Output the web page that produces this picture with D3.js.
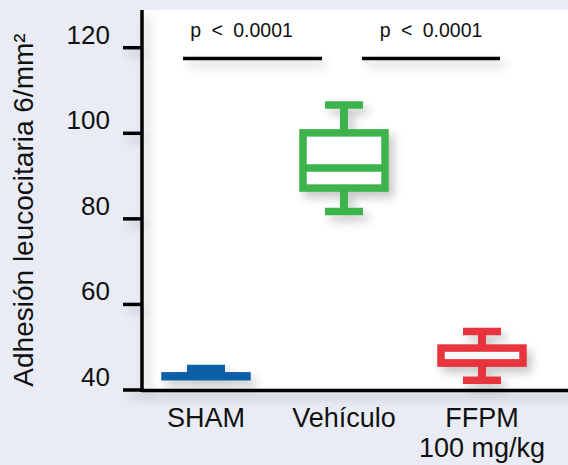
<!DOCTYPE html>
<html>
<head>
<meta charset="utf-8">
<script src="https://cdn.jsdelivr.net/npm/d3@7"></script>
<style>
  body { margin: 0; background: #e9ecf4; }
  svg { display: block; font-family: "Liberation Sans", Arial, sans-serif; }
</style>
</head>
<body>
<svg id="chart" width="568" height="465"></svg>
<script>
// group labels
const groups = ["SHAM", "Vehículo", "FFPM"];
const subLabels = ["", "", "100 mg/kg"];
// box plot stats
const mins    = [43.2, 81.7, 42.3];
const q1s     = [43.1, 87.2, 46.3];
const medians = [43.2, 91.9, 46.3];
const q3s     = [43.3, 100.1, 49.8];
const maxs    = [45.0, 106.6, 53.7];
// y ticks
const yTicks = [40, 60, 80, 100, 120];
// significance brackets
const pLabels = ["p < 0.0001", "p < 0.0001"];
const pPairs = [[0, 1], [1, 2]];
const pLevel = 117.5;

const colors = ["#0b5ea8", "#3cb44b", "#e8363c"];

const svg = d3.select("#chart");
const W = 568, H = 465;
const plotLeft = 142, plotTop = 10, plotBottom = 390.5;

const defs = svg.append("defs");
const shadow = defs.append("filter").attr("id", "shadow")
  .attr("filterUnits", "userSpaceOnUse")
  .attr("x", 0).attr("y", 0).attr("width", W).attr("height", H);
shadow.append("feDropShadow")
  .attr("dx", 5).attr("dy", 6).attr("stdDeviation", 5)
  .attr("flood-color", "#000").attr("flood-opacity", 0.22);

svg.append("rect").attr("width", W).attr("height", H).attr("fill", "#e9ecf4");
svg.append("rect")
  .attr("x", plotLeft).attr("y", plotTop)
  .attr("width", W - plotLeft).attr("height", plotBottom - plotTop)
  .attr("fill", "#ffffff");

const y = d3.scaleLinear().domain([40, 100]).range([390, 133.3]);
const x = d3.scaleBand().domain(groups).range([137, 551]);
const cx = (i) => x(groups[i]) + x.bandwidth() / 2;

// axes
const axes = svg.append("g").attr("filter", "url(#shadow)");
axes.append("line")
  .attr("x1", plotLeft).attr("x2", plotLeft).attr("y1", plotTop).attr("y2", plotBottom + 1.5)
  .attr("stroke", "#000").attr("stroke-width", 3.5);
axes.append("line")
  .attr("x1", plotLeft).attr("x2", W).attr("y1", plotBottom).attr("y2", plotBottom)
  .attr("stroke", "#000").attr("stroke-width", 3.5);
axes.selectAll(".tick")
  .data(yTicks)
  .join("line")
  .attr("class", "tick")
  .attr("x1", 123).attr("x2", plotLeft)
  .attr("y1", d => y(d)).attr("y2", d => y(d))
  .attr("stroke", "#000").attr("stroke-width", 3.5);

svg.selectAll(".tlabel")
  .data(yTicks)
  .join("text")
  .attr("class", "tlabel")
  .attr("x", 110).attr("y", d => y(d) - 4)
  .attr("text-anchor", "end")
  .attr("font-size", 26)
  .attr("fill", "#111")
  .text(d => d);

svg.append("text")
  .attr("transform", "translate(33,210) rotate(-90)")
  .attr("text-anchor", "middle")
  .attr("font-size", 28)
  .attr("fill", "#111")
  .text("Adhesión leucocitaria 6/mm²");

// x labels
svg.selectAll(".xlabel")
  .data(groups)
  .join("text")
  .attr("class", "xlabel")
  .attr("x", (d, i) => cx(i)).attr("y", 427)
  .attr("text-anchor", "middle")
  .attr("font-size", 27)
  .attr("fill", "#111")
  .text(d => d);
svg.selectAll(".xsub")
  .data(subLabels)
  .join("text")
  .attr("class", "xsub")
  .attr("x", (d, i) => cx(i)).attr("y", 457)
  .attr("text-anchor", "middle")
  .attr("font-size", 27)
  .attr("fill", "#111")
  .text(d => d);

// boxes
const boxW = 82, capW = 38, sw = 7.5;
const boxes = svg.selectAll(".box")
  .data(groups.map((g, i) => ({ i, min: mins[i], q1: q1s[i], med: medians[i], q3: q3s[i], max: maxs[i] })))
  .join("g")
  .attr("class", "box")
  .attr("filter", "url(#shadow)");

boxes.each(function (d) {
  const g = d3.select(this);
  const c = cx(d.i), col = colors[d.i];
  // whiskers
  g.append("line")
    .attr("x1", c).attr("x2", c).attr("y1", y(d.q3)).attr("y2", y(d.max))
    .attr("stroke", col).attr("stroke-width", 8);
  g.append("line")
    .attr("x1", c).attr("x2", c).attr("y1", y(d.q1)).attr("y2", y(d.min))
    .attr("stroke", col).attr("stroke-width", 8);
  g.append("line")
    .attr("x1", c - capW / 2).attr("x2", c + capW / 2)
    .attr("y1", y(d.max)).attr("y2", y(d.max))
    .attr("stroke", col).attr("stroke-width", sw);
  g.append("line")
    .attr("x1", c - capW / 2).attr("x2", c + capW / 2)
    .attr("y1", y(d.min)).attr("y2", y(d.min))
    .attr("stroke", col).attr("stroke-width", sw);
  // box
  g.append("rect")
    .attr("x", c - boxW / 2).attr("y", y(d.q3))
    .attr("width", boxW).attr("height", y(d.q1) - y(d.q3))
    .attr("fill", "#fff").attr("stroke", col).attr("stroke-width", sw);
  g.append("line")
    .attr("x1", c - boxW / 2).attr("x2", c + boxW / 2)
    .attr("y1", y(d.med)).attr("y2", y(d.med))
    .attr("stroke", col).attr("stroke-width", sw);
});

// significance
const offs = [[-23, -22], [18, 18]];
const sig = svg.selectAll(".sig")
  .data(pPairs)
  .join("g")
  .attr("class", "sig");
sig.append("line")
  .attr("x1", (d, k) => cx(d[0]) + offs[k][0])
  .attr("x2", (d, k) => cx(d[1]) + offs[k][1])
  .attr("y1", y(pLevel)).attr("y2", y(pLevel))
  .attr("stroke", "#000").attr("stroke-width", 3.5)
  .attr("filter", "url(#shadow)");
sig.append("text")
  .attr("x", (d, k) => (cx(d[0]) + offs[k][0] + cx(d[1]) + offs[k][1]) / 2 - (k === 0 ? 11 : 0))
  .attr("y", y(pLevel) - 21.5)
  .attr("text-anchor", "middle")
  .attr("font-size", 19.5)
  .attr("word-spacing", 5)
  .attr("fill", "#111")
  .text((d, k) => pLabels[k]);
</script>
</body>
</html>
